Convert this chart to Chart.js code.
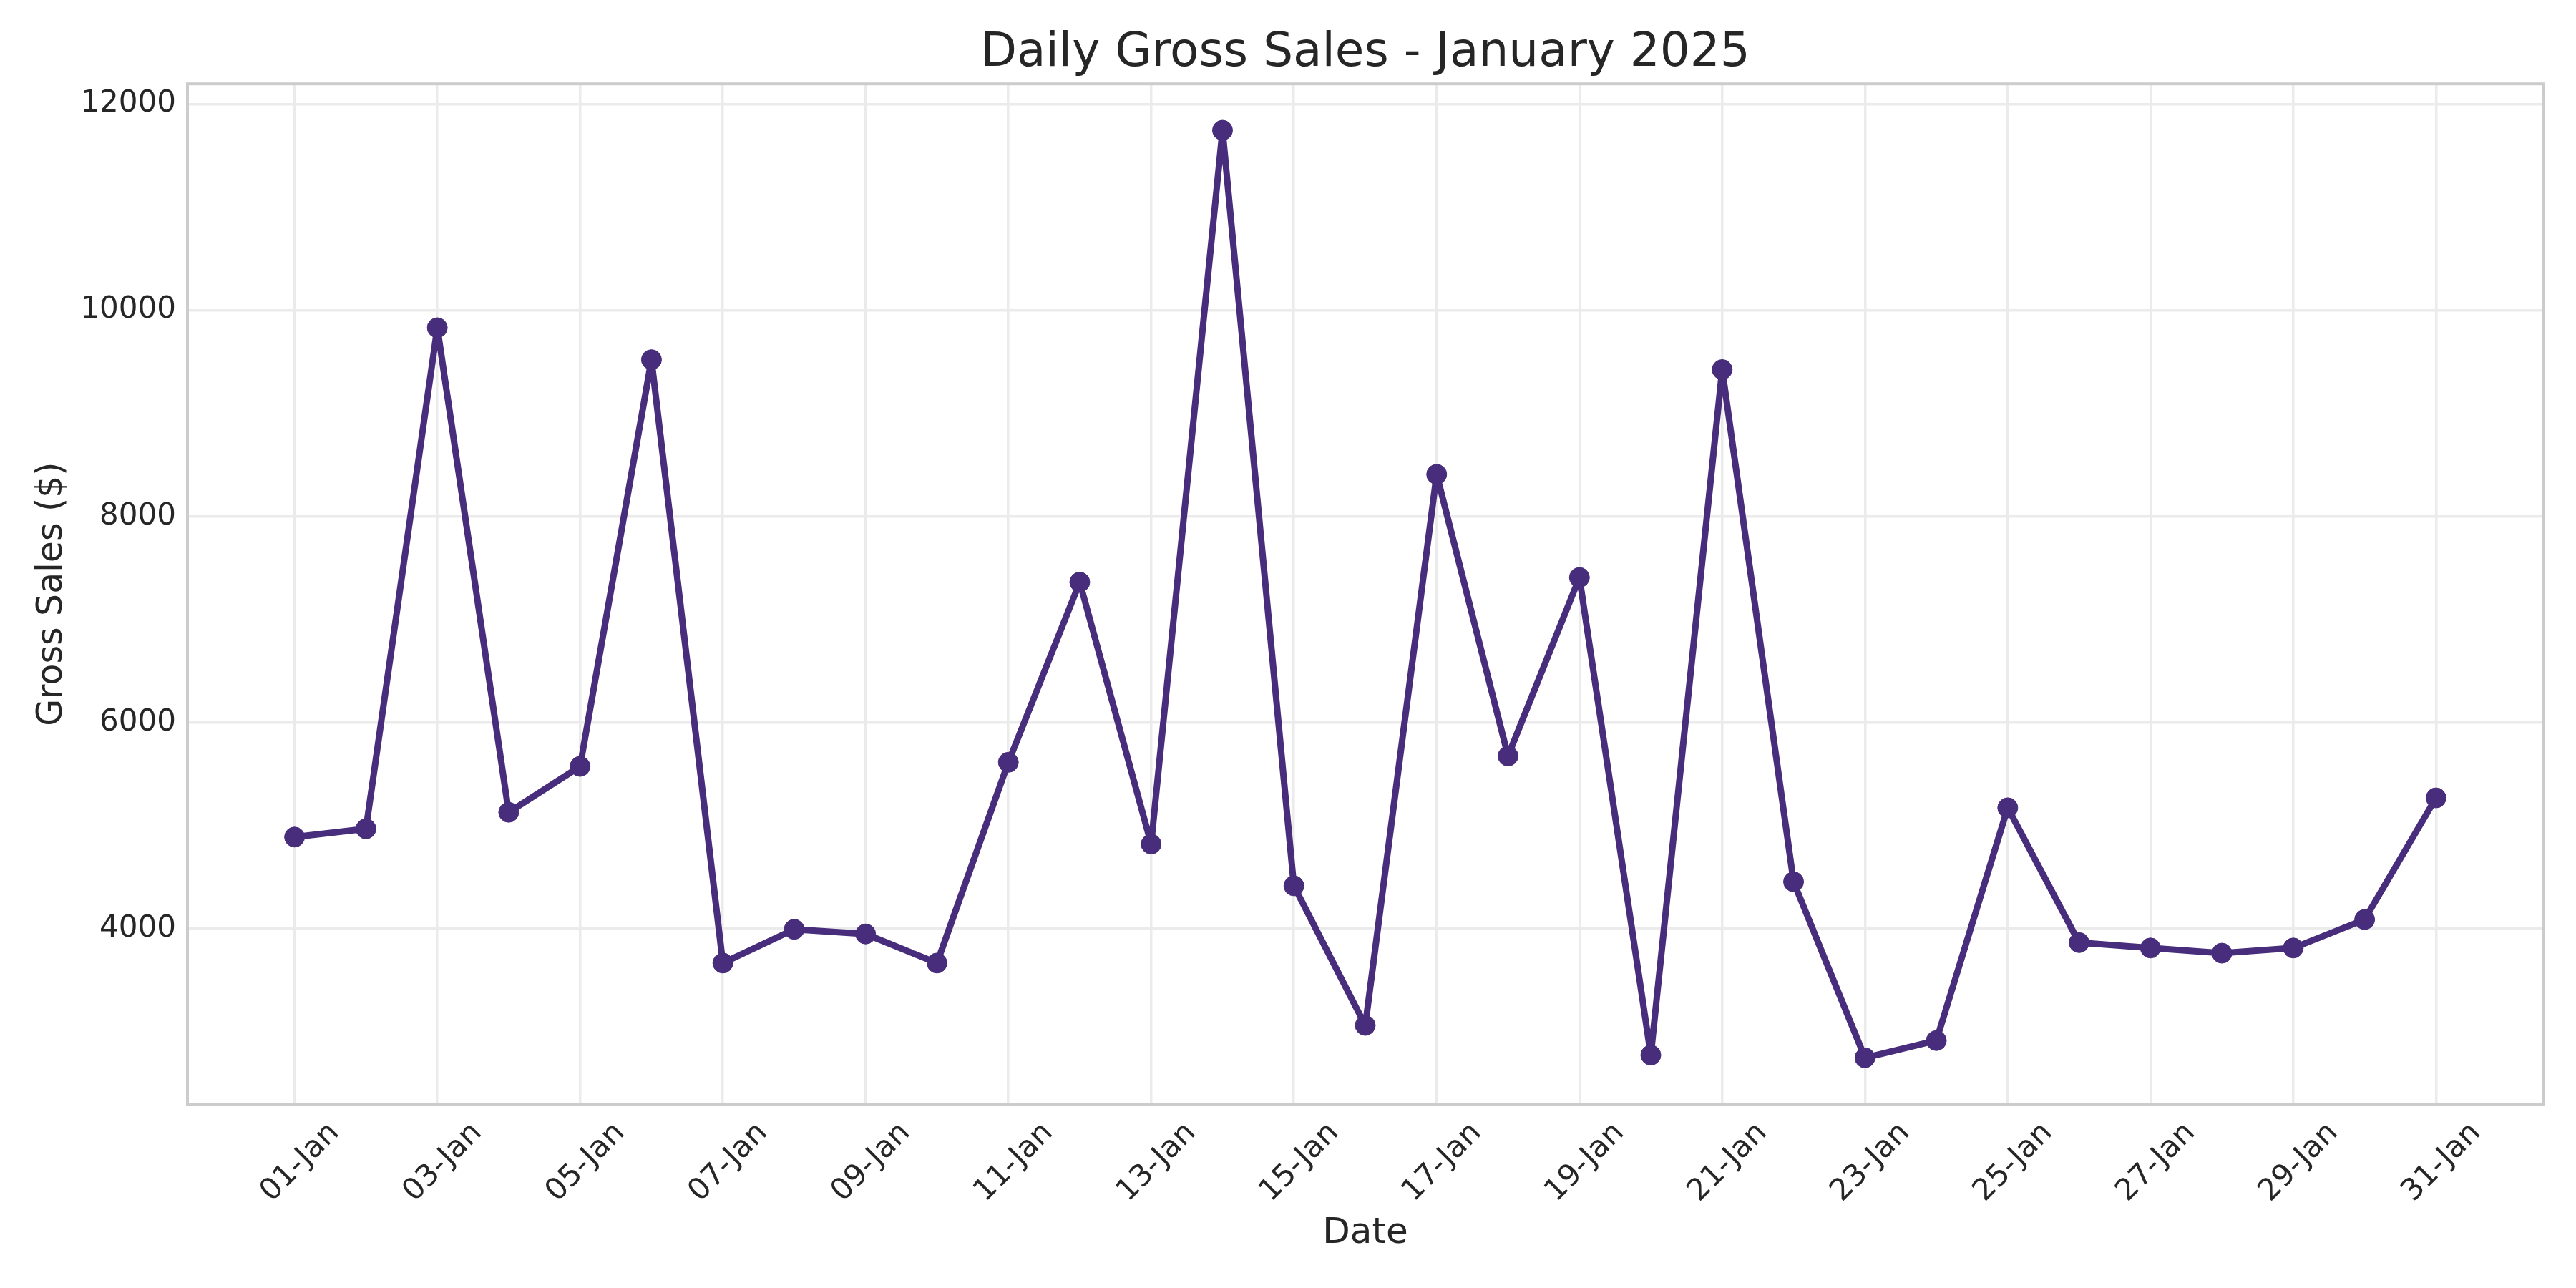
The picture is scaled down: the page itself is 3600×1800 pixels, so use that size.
<!DOCTYPE html>
<html>
<head>
<meta charset="utf-8">
<title>Daily Gross Sales - January 2025</title>
<script src="https://cdn.jsdelivr.net/npm/chart.js@4.4.1/dist/chart.umd.min.js"></script>
<style>
  html, body { margin: 0; padding: 0; background: #ffffff; }
  #wrap { width: 3600px; height: 1800px; position: relative; }
</style>
</head>
<body>
<div id="wrap"><canvas id="salesChart"></canvas></div>
<script>
// chart values
const dates = [
  "01-Jan", "02-Jan", "03-Jan", "04-Jan", "05-Jan", "06-Jan", "07-Jan", "08-Jan",
  "09-Jan", "10-Jan", "11-Jan", "12-Jan", "13-Jan", "14-Jan", "15-Jan", "16-Jan",
  "17-Jan", "18-Jan", "19-Jan", "20-Jan", "21-Jan", "22-Jan", "23-Jan", "24-Jan",
  "25-Jan", "26-Jan", "27-Jan", "28-Jan", "29-Jan", "30-Jan", "31-Jan",
];
const grossSales = [
  4890, 4970, 9830, 5130, 5575, 9520, 3668, 3995,
  3950, 3668, 5615, 7362, 4822, 11745, 4417, 3063,
  8408, 5676, 7407, 2775, 9424, 4456, 2749, 2916,
  5174, 3866, 3814, 3764, 3814, 4090, 5270,
];
const yTicks = [4000, 6000, 8000, 10000, 12000];
const xTickEvery = 2; // one label every other day

const purple = "#472d7b";
const ink = "#262626";
const gridColor = "#ebebeb";
const edgeColor = "#cccccc";
const font = "'DejaVu Sans', 'Liberation Sans', sans-serif";

// matplotlib-like 5% margins
const yMin = 2300;
const yMax = 12195;

// box round the plot area (seaborn whitegrid draws all four spines),
// and centre the title over the plot area instead of the whole canvas
const frame = {
  id: "frame",
  afterLayout(chart) {
    const t = chart.titleBlock;
    if (t) {
      t.left = chart.chartArea.left;
      t.right = chart.chartArea.right;
      t.width = t.right - t.left;
    }
  },
  afterDraw(chart) {
    const { ctx, chartArea: a } = chart;
    ctx.save();
    ctx.strokeStyle = edgeColor;
    ctx.lineWidth = 4;
    ctx.strokeRect(a.left, a.top, a.right - a.left, a.bottom - a.top);
    ctx.restore();
  },
};

new Chart(document.getElementById("salesChart").getContext("2d"), {
  type: "line",
  data: {
    datasets: [{
      label: "Gross Sales",
      data: grossSales.map((v, i) => ({ x: i, y: v })),
      borderColor: purple,
      backgroundColor: purple,
      borderWidth: 9,
      borderJoinStyle: "round",
      borderCapStyle: "round",
      pointRadius: 14,
      pointBorderWidth: 1,
      pointBackgroundColor: purple,
      pointBorderColor: purple,
      tension: 0,
    }],
  },
  options: {
    responsive: true,
    maintainAspectRatio: false,
    animation: false,
    layout: { padding: { left: 0, right: 46, top: 0, bottom: 0 } },
    plugins: {
      legend: { display: false },
      tooltip: { enabled: false },
      title: {
        display: true,
        text: "Daily Gross Sales - January 2025",
        color: ink,
        font: { family: font, size: 66, weight: "normal", lineHeight: 1.2 },
        padding: { top: 35, bottom: 3 },
      },
    },
    scales: {
      x: {
        type: "linear",
        min: -1.5,
        max: dates.length - 1 + 1.5,
        afterBuildTicks: (s) => {
          s.ticks = dates.map((d, i) => i).filter((i) => i % xTickEvery === 0).map((v) => ({ value: v }));
        },
        afterFit: (s) => { s.height = 257; },
        grid: { color: gridColor, lineWidth: 3.5, drawTicks: false },
        border: { display: false },
        ticks: {
          color: ink,
          font: { family: font, size: 42 },
          autoSkip: false,
          maxRotation: 45,
          minRotation: 45,
          labelOffset: 56,
          padding: 16,
          callback: (v) => dates[v],
        },
        title: {
          display: true,
          text: "Date",
          color: ink,
          font: { family: font, size: 50 },
          padding: { top: 0, bottom: 46 },
        },
      },
      y: {
        min: yMin,
        max: yMax,
        afterBuildTicks: (s) => { s.ticks = yTicks.map((v) => ({ value: v })); },
        afterFit: (s) => { s.width = 262; },
        grid: { color: gridColor, lineWidth: 3.5, drawTicks: false },
        border: { display: false },
        ticks: {
          color: ink,
          font: { family: font, size: 42 },
          padding: 16,
          callback: (v) => String(v),
        },
        title: {
          display: true,
          text: "Gross Sales ($)",
          color: ink,
          font: { family: font, size: 49 },
          padding: { top: 44, bottom: 0 },
        },
      },
    },
  },
  plugins: [frame],
});
</script>
</body>
</html>
